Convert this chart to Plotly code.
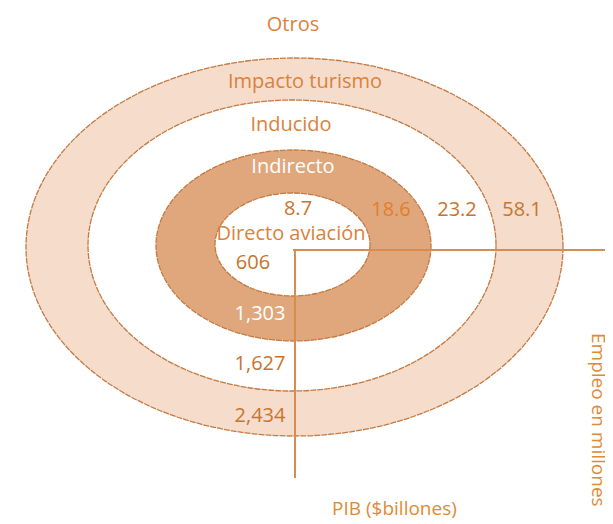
import plotly.graph_objects as go

# ---- data ----
rings = ["Directo aviación", "Indirecto", "Inducido", "Impacto turismo"]
empleo = ["8.7", "18.6", "23.2", "58.1"]          # employment, millions
pib = ["606", "1,303", "1,627", "2,434"]           # GDP, $ billions
outer_label = "Otros"
x_title = "PIB ($billones)"
y_title = "Empleo en millones"

# ---- geometry (pixel-like coordinates) ----
ellipses = [  # x0, x1, y0, y1, fill  (outer to inner)
    (18, 555, 50, 428, "#f5dccb"),
    (80, 488, 92, 383, "#ffffff"),
    (148, 423, 142, 333, "#e0a77d"),
    (207, 362, 185, 288, "#ffffff"),
]
ring_label_pos = [(283, 227), (285, 160), (283, 118), (297, 75)]
ring_label_col = ["#d9823b", "#ffffff", "#d9823b", "#d9823b"]
emp_pos = [(290, 202), (383, 203), (449, 203), (514, 203)]
emp_col = ["#c8742e", "#e07f2a", "#c8742e", "#c8742e"]
pib_pos = [(245, 256), (252, 307), (252, 357), (252, 409)]
pib_col = ["#c8742e", "#ffffff", "#c8742e", "#c8742e"]

line_col = "#c47a42"
axis_col = "#d98c50"
font = "Open Sans"

fig = go.Figure()

shapes = []
for x0, x1, y0, y1, fc in ellipses:
    shapes.append(dict(type="circle", xref="x", yref="y", x0=x0, x1=x1, y0=y0, y1=y1,
                       fillcolor=fc, line=dict(color=line_col, width=1.3, dash="6px,1px"),
                       layer="below"))
# axis lines
shapes.append(dict(type="line", xref="x", yref="y", x0=285, x1=613, y0=242, y1=242,
                   line=dict(color=axis_col, width=2)))
shapes.append(dict(type="line", xref="x", yref="y", x0=287, x1=287, y0=242, y1=470,
                   line=dict(color=axis_col, width=2)))

# labels
tx, ty, tt, tc = [], [], [], []
for (x, y), t, c in zip(ring_label_pos, rings, ring_label_col):
    tx.append(x); ty.append(y); tt.append(t); tc.append(c)
for (x, y), t, c in zip(emp_pos, empleo, emp_col):
    tx.append(x); ty.append(y); tt.append(t); tc.append(c)
for (x, y), t, c in zip(pib_pos, pib, pib_col):
    tx.append(x); ty.append(y); tt.append(t); tc.append(c)
tx.append(285); ty.append(18); tt.append(outer_label); tc.append("#d9823b")

fig.add_trace(go.Scatter(x=tx, y=ty, text=tt, mode="text",
                         textfont=dict(family=font, size=20, color=tc),
                         hoverinfo="skip", showlegend=False))

fig.add_annotation(x=386, y=500, xref="x", yref="y", text=x_title, showarrow=False,
                   font=dict(family=font, size=19, color="#e08a35"))
fig.add_annotation(x=591, y=412, xref="x", yref="y", text=y_title, showarrow=False,
                   textangle=90, font=dict(family=font, size=19, color="#e08a35"))

fig.update_layout(width=613, height=524, margin=dict(l=0, r=0, t=0, b=0),
                  paper_bgcolor="white", plot_bgcolor="white", shapes=shapes,
                  xaxis=dict(range=[0, 613], visible=False, fixedrange=True),
                  yaxis=dict(range=[524, 0], visible=False, fixedrange=True))

fig.write_html("out.html")
